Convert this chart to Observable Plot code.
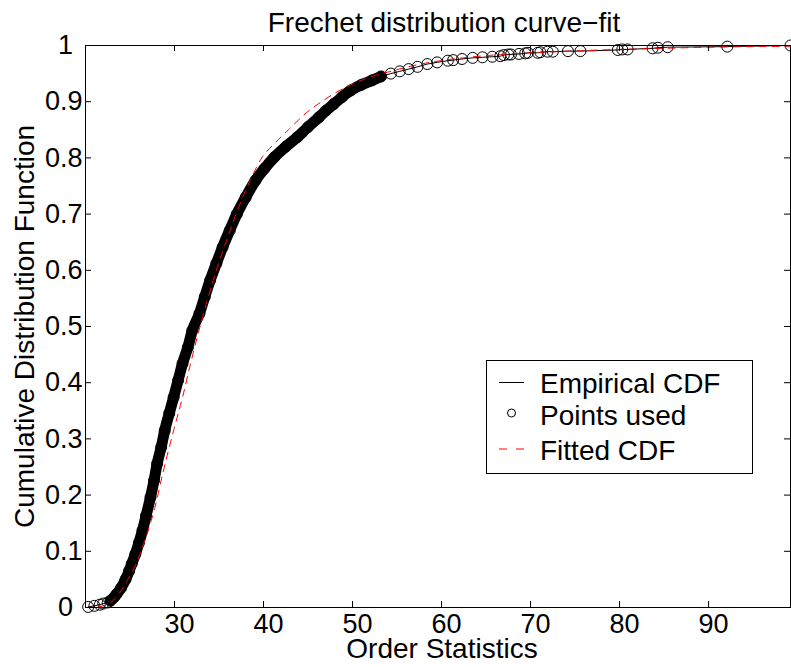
<!DOCTYPE html>
<html>
<head>
<meta charset="utf-8">
<script src="https://cdn.jsdelivr.net/npm/d3@7"></script>
<script src="https://cdn.jsdelivr.net/npm/@observablehq/plot@0.6"></script>
<style>
  html, body { margin: 0; padding: 0; background: white; overflow: hidden; }
  #wrap { position: relative; width: 791px; height: 667px; font-family: "Liberation Sans", Arial, sans-serif; }
  #legend { position: absolute; left: 486px; top: 360px; }
</style>
</head>
<body>
<div id="wrap"></div>
<script>
// ---- data ----
const titleText = "Frechet distribution curve\u2212fit";
const xLabel = "Order Statistics";
const yLabel = "Cumulative Distribution Function";
const xTicks = [30, 40, 50, 60, 70, 80, 90];
const yTicks = [0, 0.1, 0.2, 0.3, 0.4, 0.5, 0.6, 0.7, 0.8, 0.9, 1];
const xDomain = [20, 99.2];
const yDomain = [0, 1];

// empirical CDF: sparse points near zero
const lowX = [20.3, 21.0, 21.6, 22.0, 22.5];
const lowF = [0.001, 0.003, 0.005, 0.007, 0.009];
// empirical CDF: dense body (points overlap into a solid band)
const bodyX = [22.8, 23.2, 23.5, 24.0, 24.5, 24.9, 25.2, 25.6, 26.0, 26.4, 26.8, 27.3, 27.7, 28.05, 28.5, 28.9, 29.4, 29.9, 30.4, 30.9, 31.5, 32.0, 32.8, 33.4, 34.0, 34.7, 35.4, 36.2, 37.0, 38.0, 39.1, 40.1, 41.2, 42.5, 43.8, 45.0, 46.2, 47.0, 47.9, 48.8, 49.8, 51.0, 52.2, 53.2];
const bodyF = [0.012, 0.018, 0.024, 0.035, 0.050, 0.065, 0.078, 0.095, 0.115, 0.137, 0.163, 0.196, 0.226, 0.256, 0.285, 0.315, 0.345, 0.374, 0.404, 0.434, 0.463, 0.493, 0.523, 0.553, 0.582, 0.612, 0.641, 0.671, 0.700, 0.730, 0.760, 0.781, 0.801, 0.820, 0.837, 0.855, 0.872, 0.884, 0.896, 0.908, 0.920, 0.930, 0.938, 0.945];
// empirical CDF: upper tail, separate circles
const tailX = [54.3, 55.3, 56.3, 57.3, 58.4, 59.5, 60.7, 61.3, 62.3, 63.5, 64.6, 65.7, 66.6, 67.0, 67.5, 67.8, 68.7, 69.4, 69.7, 70.8, 71.1, 71.9, 72.5, 74.2, 75.6, 79.8, 80.3, 80.9, 83.7, 84.3, 85.4, 92.1, 99.2];
const tailF = [0.950, 0.954, 0.958, 0.962, 0.967, 0.970, 0.973, 0.974, 0.976, 0.978, 0.979, 0.980, 0.981, 0.983, 0.984, 0.984, 0.985, 0.986, 0.987, 0.987, 0.988, 0.989, 0.989, 0.990, 0.990, 0.992, 0.993, 0.993, 0.995, 0.996, 0.997, 0.998, 1.000];
// fitted Frechet CDF (red dashed)
const fitX = [20.0, 21.0, 22.0, 22.8, 23.6, 24.7, 26.0, 26.9, 27.8, 28.7, 29.9, 30.9, 31.8, 32.7, 33.8, 34.8, 36.0, 37.2, 38.5, 39.8, 41.2, 42.8, 44.8, 46.7, 48.1, 50.1, 52.0, 54.3, 56.2, 59.1, 63.0, 66.6, 71.5, 76.0, 80.0, 85.0, 90.0, 95.0, 99.2];
const fitF = [0.000, 0.0005, 0.003, 0.008, 0.021, 0.048, 0.090, 0.131, 0.178, 0.240, 0.315, 0.374, 0.434, 0.490, 0.553, 0.605, 0.660, 0.712, 0.760, 0.800, 0.825, 0.850, 0.880, 0.902, 0.916, 0.932, 0.944, 0.954, 0.962, 0.971, 0.979, 0.984, 0.988, 0.991, 0.993, 0.995, 0.997, 0.998, 0.9985];
const legendLabels = ["Empirical CDF", "Points used", "Fitted CDF"];

// ---- build tables ----
const rows = (xs, fs) => xs.map((x, i) => ({x, F: fs[i]}));
const low = rows(lowX, lowF);
const body = rows(bodyX, bodyF);
const tail = rows(tailX, tailF);
const ecdf = [...low, ...body, ...tail];
const fit = rows(fitX, fitF);

const FONT = "Liberation Sans, Arial, sans-serif";
const fmtY = d => (d === 0 ? "0" : d === 1 ? "1" : String(d));

const chart = Plot.plot({
  width: 791,
  height: 667,
  marginLeft: 85,
  marginRight: 1,
  marginTop: 45,
  marginBottom: 60,
  style: {fontFamily: FONT, background: "white", overflow: "visible"},
  x: {domain: xDomain, axis: null},
  y: {domain: yDomain, axis: null},
  marks: [
    // dense band formed by overlapping markers
    Plot.line(body, {x: "x", y: "F", stroke: "black", strokeWidth: 11, strokeLinejoin: "round", strokeLinecap: "round", curve: "monotone-x"}),
    // empirical CDF line
    Plot.line(ecdf, {x: "x", y: "F", stroke: "black", strokeWidth: 1}),
    // points used
    Plot.dot(ecdf, {x: "x", y: "F", r: 5.5, stroke: "black", strokeWidth: 1, fill: "none"}),
    // fitted CDF
    Plot.line(fit, {x: "x", y: "F", stroke: "#ff0000", strokeWidth: 1, strokeDasharray: "7,6", curve: "monotone-x"}),
    // axes box and inward ticks
    Plot.frame({stroke: "black", strokeWidth: 1}),
    Plot.tickX(xTicks, {x: d => d, insetTop: 556, stroke: "black"}),
    Plot.tickX(xTicks, {x: d => d, insetBottom: 556, stroke: "black"}),
    Plot.tickY(yTicks, {y: d => d, insetRight: 699, stroke: "black"}),
    Plot.tickY(yTicks, {y: d => d, insetLeft: 699, stroke: "black"}),
    // tick labels
    Plot.text(xTicks, {x: d => d, text: d => String(d), frameAnchor: "bottom", lineAnchor: "middle", dy: 17, dx: 5, fontSize: 27, fill: "black"}),
    Plot.text(yTicks.filter(d => d !== 0 && d !== 1), {y: d => d, text: fmtY, frameAnchor: "left", textAnchor: "end", lineAnchor: "middle", dx: -3, fontSize: 27, fill: "black"}),
    Plot.text(yTicks.filter(d => d === 0 || d === 1), {y: d => d, text: fmtY, frameAnchor: "left", textAnchor: "middle", lineAnchor: "middle", dx: -20, fontSize: 27, fill: "black"}),
    // title and axis labels
    Plot.text([titleText], {text: d => d, frameAnchor: "top", textAnchor: "middle", lineAnchor: "middle", dy: -22, dx: 6, fontSize: 28, fill: "black"}),
    Plot.text([xLabel], {text: d => d, frameAnchor: "bottom", textAnchor: "middle", lineAnchor: "middle", dy: 42, dx: 4, fontSize: 28, fill: "black"}),
    Plot.text([yLabel], {text: d => d, frameAnchor: "left", textAnchor: "middle", lineAnchor: "middle", rotate: -90, dx: -60, fontSize: 28, fill: "black"})
  ]
});

const wrap = document.getElementById("wrap");
wrap.appendChild(chart);

// legend box (inside the axes, as in the reference)
const leg = d3.create("svg").attr("id", "legend").attr("width", 268).attr("height", 115)
  .style("font-family", FONT);
leg.append("rect").attr("x", 0.5).attr("y", 0.5).attr("width", 266).attr("height", 113)
  .attr("fill", "white").attr("stroke", "black").attr("stroke-width", 1);
const rowY = [22.5, 53, 89];
const baseY = [33, 65, 100];
leg.append("line").attr("x1", 13).attr("x2", 38).attr("y1", rowY[0]).attr("y2", rowY[0]).attr("stroke", "black");
leg.append("circle").attr("cx", 25.5).attr("cy", rowY[1]).attr("r", 4).attr("fill", "none").attr("stroke", "black");
leg.append("line").attr("x1", 13).attr("x2", 38).attr("y1", rowY[2]).attr("y2", rowY[2]).attr("stroke", "#ff0000").attr("stroke-dasharray", "8,9");
legendLabels.forEach((t, i) => {
  leg.append("text").attr("x", 54).attr("y", baseY[i]).attr("font-size", 28).attr("fill", "black").text(t);
});
wrap.appendChild(leg.node());
</script>
</body>
</html>
